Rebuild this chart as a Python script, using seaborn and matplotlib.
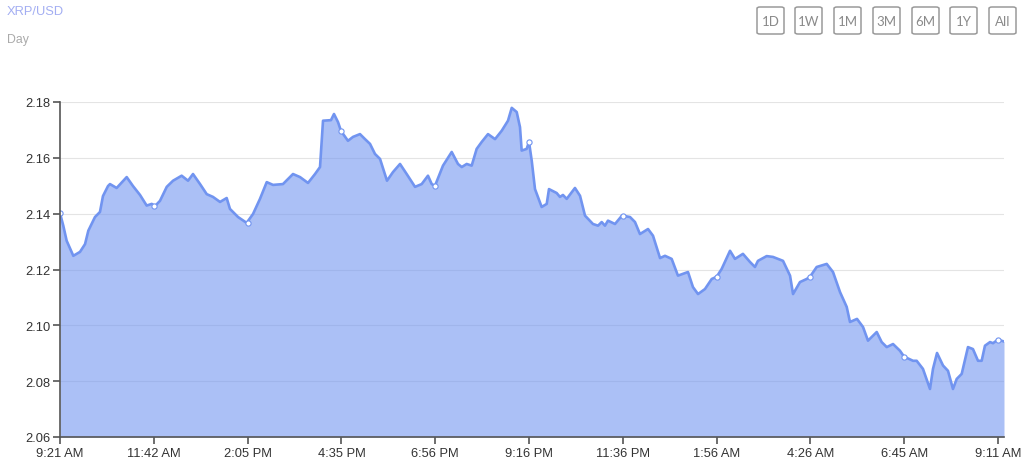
import numpy as np
import seaborn as sns
import matplotlib
matplotlib.use("Agg")
import matplotlib.pyplot as plt
from matplotlib.patches import FancyBboxPatch

# x position in tick units (0 = 9:21 AM ... 10 = 9:11 AM), y = price
pos = [0.0, 0.035, 0.071, 0.142, 0.213, 0.267, 0.302, 0.373, 0.426, 0.458, 0.512, 0.533, 0.604,
       0.711, 0.778, 0.853, 0.924, 0.978, 1.013, 1.066, 1.138, 1.205, 1.297, 1.365, 1.418, 1.493,
       1.564, 1.631, 1.706, 1.777, 1.812, 1.898, 1.990, 2.058, 2.132, 2.204, 2.271, 2.377, 2.484,
       2.559, 2.644, 2.719, 2.772, 2.804, 2.889, 2.921, 2.964, 2.996, 3.070, 3.124, 3.198, 3.252,
       3.305, 3.358, 3.412, 3.486, 3.550, 3.625, 3.696, 3.785, 3.856, 3.923, 3.963, 3.998, 4.083,
       4.176, 4.243, 4.283, 4.336, 4.389, 4.442, 4.496, 4.563, 4.638, 4.709, 4.776, 4.816, 4.869,
       4.904, 4.922, 4.975, 5.000, 5.029, 5.064, 5.135, 5.189, 5.213, 5.295, 5.330, 5.362, 5.402,
       5.490, 5.544, 5.597, 5.682, 5.736, 5.775, 5.810, 5.842, 5.917, 5.991, 6.077, 6.130, 6.183,
       6.269, 6.322, 6.397, 6.450, 6.521, 6.588, 6.695, 6.748, 6.802, 6.876, 6.948, 7.001, 7.054,
       7.143, 7.196, 7.281, 7.356, 7.409, 7.441, 7.534, 7.601, 7.708, 7.783, 7.815, 7.889, 7.960,
       7.996, 8.067, 8.174, 8.241, 8.316, 8.387, 8.422, 8.497, 8.561, 8.614, 8.707, 8.760, 8.814,
       8.881, 8.955, 8.998, 9.094, 9.133, 9.200, 9.275, 9.307, 9.350, 9.414, 9.467, 9.520, 9.560,
       9.613, 9.680, 9.733, 9.787, 9.826, 9.861, 9.915, 9.947, 10.0, 10.064]
price = [2.1402, 2.1357, 2.1303, 2.1249, 2.1263, 2.1291, 2.1339, 2.1388, 2.1406, 2.1463, 2.1499,
         2.1506, 2.1492, 2.1531, 2.1499, 2.1467, 2.1429, 2.1435, 2.1427, 2.1446, 2.1496, 2.1518,
         2.1536, 2.1518, 2.1542, 2.1506, 2.1470, 2.1460, 2.1442, 2.1456, 2.1417, 2.1388, 2.1367,
         2.1399, 2.1453, 2.1513, 2.1503, 2.1506, 2.1542, 2.1531, 2.1510, 2.1542, 2.1567, 2.1733,
         2.1735, 2.1757, 2.1728, 2.1696, 2.1661, 2.1675, 2.1685, 2.1667, 2.1650, 2.1614, 2.1596,
         2.1518, 2.1549, 2.1578, 2.1542, 2.1496, 2.1506, 2.1536, 2.1506, 2.1500, 2.1572, 2.1621,
         2.1578, 2.1567, 2.1578, 2.1572, 2.1632, 2.1657, 2.1685, 2.1667, 2.1697, 2.1733, 2.1779,
         2.1764, 2.1710, 2.1626, 2.1632, 2.1657, 2.1590, 2.1488, 2.1424, 2.1435, 2.1488, 2.1474,
         2.1460, 2.1467, 2.1453, 2.1492, 2.1464, 2.1393, 2.1363, 2.1357, 2.1370, 2.1357, 2.1375,
         2.1363, 2.1393, 2.1388, 2.1370, 2.1327, 2.1345, 2.1321, 2.1241, 2.1249, 2.1238, 2.1178,
         2.1191, 2.1137, 2.1112, 2.1130, 2.1166, 2.1174, 2.1202, 2.1267, 2.1238, 2.1256, 2.1227,
         2.1209, 2.1231, 2.1248, 2.1245, 2.1231, 2.1178, 2.1112, 2.1155, 2.1166, 2.1174, 2.1209,
         2.1220, 2.1191, 2.1119, 2.1066, 2.1012, 2.1023, 2.0994, 2.0945, 2.0976, 2.0940, 2.0922,
         2.0933, 2.0909, 2.0888, 2.0873, 2.0873, 2.0844, 2.0772, 2.0844, 2.0901, 2.0856, 2.0837,
         2.0772, 2.0808, 2.0826, 2.0922, 2.0915, 2.0873, 2.0873, 2.0927, 2.0940, 2.0936, 2.0949,
         2.0942]

tick_labels = ["9:21 AM", "11:42 AM", "2:05 PM", "4:35 PM", "6:56 PM", "9:16 PM",
               "11:36 PM", "1:56 AM", "4:26 AM", "6:45 AM", "9:11 AM"]
marker_vals = [2.1402, 2.1427, 2.1367, 2.1696, 2.1500, 2.1657, 2.1393, 2.1174, 2.1174, 2.0888, 2.0949]
buttons = ["1D", "1W", "1M", "3M", "6M", "1Y", "All"]

sns.set_style("white")
plt.rcParams['font.family'] = ['Liberation Sans', 'DejaVu Sans']

fig = plt.figure(figsize=(10.24, 4.77), dpi=100)
ax = fig.add_axes([60 / 1024, 39 / 477, 944 / 1024, 335 / 477])

line_col = "#7194f0"
ymin, ymax = 2.06, 2.18

# semi-transparent fill so the grid shows faintly through it
ax.fill_between(pos, price, ymin, color=line_col, alpha=0.59, lw=0, zorder=2)
sns.lineplot(x=pos, y=price, ax=ax, color=line_col, linewidth=1.9, zorder=3)
ax.scatter(range(len(marker_vals)), marker_vals, s=14, facecolor="white",
           edgecolor=line_col, linewidth=0.8, zorder=4)

ax.set_xlim(0, pos[-1])
ax.set_ylim(ymin, ymax)
ax.set_yticks([2.06, 2.08, 2.10, 2.12, 2.14, 2.16, 2.18])
ax.set_yticklabels(["2.06", "2.08", "2.10", "2.12", "2.14", "2.16", "2.18"])
ax.set_xticks(range(len(tick_labels)))
ax.set_xticklabels(tick_labels)
ax.grid(axis="y", color="#e4e4e4", linewidth=0.8, zorder=1)
ax.set_axisbelow(True)
for s in ["top", "right"]:
    ax.spines[s].set_visible(False)
for s in ["left", "bottom"]:
    ax.spines[s].set_color("#555555")
    ax.spines[s].set_linewidth(1.2)
    ax.spines[s].set_zorder(5)
ax.tick_params(axis="both", colors="#555555", length=5, width=1.2, labelsize=9.3,
               labelcolor="#333333", direction="out", pad=2)
ax.tick_params(axis="both", bottom=True, left=True)

fig.text(7 / 1024, 1 - 12 / 477, "XRP/USD", color="#a3aef2", fontsize=9.3, va="center")
fig.text(7 / 1024, 1 - 40 / 477, "Day", color="#aaaaaa", fontsize=8.8, va="center")

bx = [757, 795, 834, 873, 912, 950, 989]
for b, x0 in zip(buttons, bx):
    box = FancyBboxPatch((x0 / 1024, 1 - 35 / 477), 27 / 1024, 27 / 477,
                         boxstyle="round,pad=0,rounding_size=0.003",
                         transform=fig.transFigure, facecolor="white",
                         edgecolor="#9a9a9a", linewidth=1.1)
    fig.patches.append(box)
    fig.text((x0 + 13.5) / 1024, 1 - 21.5 / 477, b, color="#8a8a8a", fontsize=9.5,
             ha="center", va="center", family=["Lato", "DejaVu Sans"])

fig.savefig("out.png", dpi=100)
